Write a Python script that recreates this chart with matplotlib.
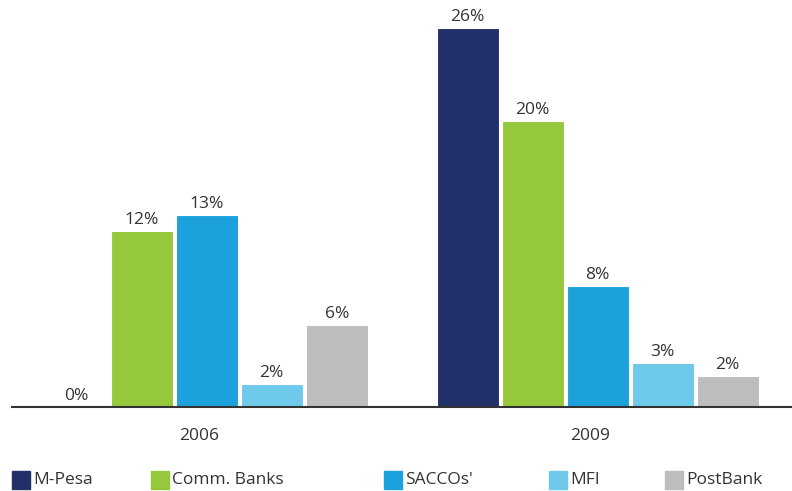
import matplotlib.pyplot as plt
from matplotlib.patches import Rectangle
import numpy as np

plt.rcParams['font.family'] = ['Open Sans', 'DejaVu Sans']

years = ["2006", "2009"]
series = ["M-Pesa", "Comm. Banks", "SACCOs'", "MFI", "PostBank"]
values = {
    "M-Pesa":      [0.0, 26.0],
    "Comm. Banks": [12.1, 19.6],
    "SACCOs'":     [13.2, 8.3],
    "MFI":         [1.6, 3.0],
    "PostBank":    [5.6, 2.1],
}
labels = {
    "M-Pesa":      ["0%", "26%"],
    "Comm. Banks": ["12%", "20%"],
    "SACCOs'":     ["13%", "8%"],
    "MFI":         ["2%", "3%"],
    "PostBank":    ["6%", "2%"],
}
colors = ["#22306a", "#95c83d", "#1ba1db", "#6ec9eb", "#bdbdbd"]
text_color = "#333333"
fs = 12.5

fig = plt.figure(figsize=(7.92, 4.91), dpi=100)
ax = fig.add_axes([12/792, 84/491, 780/792, 387/491])

step = 65/391
width = 62/391
x = np.arange(len(years))
for k, name in enumerate(series):
    pos = x + (k - 2) * step
    bars = ax.bar(pos, values[name], width=width, color=colors[k],
                  edgecolor="white", linewidth=0.8)
    for b, lab in zip(bars, labels[name]):
        ax.text(b.get_x() + b.get_width()/2, b.get_height() + 0.2, lab,
                ha="center", va="bottom", fontsize=fs, color=text_color)

ax.set_xlim((12-206.75)/391, (792-206.75)/391)
ax.set_ylim(0, 387/14.58)
for s in ["top", "right", "left"]:
    ax.spines[s].set_visible(False)
ax.spines["bottom"].set_color(text_color)
ax.spines["bottom"].set_linewidth(1.5)
ax.set_yticks([])
ax.set_xticks(x - 0.02)
ax.set_xticklabels(years, fontsize=fs, color=text_color)
ax.tick_params(axis="x", length=0, pad=15)

# legend along the bottom
leg_x = [12, 151, 384, 549, 665]
for k, name in enumerate(series):
    fig.add_artist(Rectangle((leg_x[k]/792, 2/491), 18/792, 18/491,
                             transform=fig.transFigure, color=colors[k]))
    fig.text((leg_x[k] + 21)/792, 11/491, name, fontsize=fs,
             color=text_color, va="center", ha="left")

plt.savefig("out.png", dpi=100)
